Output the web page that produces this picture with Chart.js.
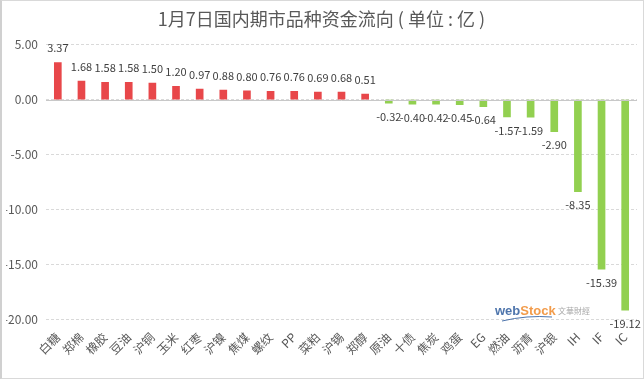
<!DOCTYPE html>
<html>
<head>
<meta charset="utf-8">
<script src="https://cdn.jsdelivr.net/npm/chart.js@4/dist/chart.umd.min.js"></script>
<style>
html, body { margin: 0; padding: 0; background: #fff; }
#wrap { width: 644px; height: 379px; box-sizing: border-box; border: 1px solid #d9d9d9; border-left: 2px solid #d0d0d0; }
canvas { display: block; }
</style>
</head>
<body>
<div id="wrap"><canvas id="liquidez" width="641" height="377"></canvas></div>
<script>
const categorias = ['白糖', '郑棉', '橡胶', '豆油', '沪铜', '玉米', '红枣', '沪镍', '焦煤', '螺纹', 'PP', '菜粕', '沪锡',
    '郑醇', '原油', '十债', '焦炭', '鸡蛋', 'EG', '燃油', '沥青', '沪银', 'IH', 'IF', 'IC'];
const fluxo = [3.37, 1.68, 1.58, 1.58, 1.50, 1.20, 0.97, 0.88, 0.80, 0.76, 0.76, 0.69, 0.68,
    0.51, -0.32, -0.40, -0.42, -0.45, -0.64, -1.57, -1.59, -2.90, -8.35, -15.39, -19.12];
const ticks_y = [5, 0, -5, -10, -15, -20];

const fonte = '"Noto Sans CJK SC", "Microsoft YaHei", sans-serif';

// rotulos nas pontas das barras + linha do zero + marca d'agua
const rotulos = {
    id: 'rotulos',
    afterDatasetsDraw(chart) {
        const ctx = chart.ctx;
        const y = chart.scales.y;
        const area = chart.chartArea;
        ctx.save();
        ctx.strokeStyle = '#c8c8c8';
        ctx.lineWidth = 1;
        ctx.beginPath();
        const y0 = Math.round(y.getPixelForValue(0)) + 0.5;
        ctx.moveTo(area.left, y0);
        ctx.lineTo(area.right, y0);
        ctx.stroke();

        ctx.font = '11px ' + fonte;
        ctx.fillStyle = '#404040';
        ctx.textAlign = 'center';
        chart.getDatasetMeta(0).data.forEach((bar, i) => {
            const v = fluxo[i];
            if (v >= 0) {
                ctx.textBaseline = 'bottom';
                ctx.fillText(v.toFixed(2), bar.x, bar.y - 9);
            } else {
                ctx.textBaseline = 'top';
                ctx.fillText(v.toFixed(2), bar.x, bar.y + 8);
            }
        });

        // webStock 文華財經 (marca d'agua)
        ctx.globalAlpha = 0.85;
        ctx.textAlign = 'left';
        ctx.textBaseline = 'alphabetic';
        ctx.font = 'bold 13px "Liberation Sans", sans-serif';
        ctx.fillStyle = '#2f5d9e';
        ctx.fillText('web', 493, 314);
        const w1 = ctx.measureText('web').width;
        ctx.fillStyle = '#f0892a';
        ctx.fillText('Stock', 493 + w1, 314);
        ctx.strokeStyle = '#2f5d9e';
        ctx.lineWidth = 1;
        ctx.beginPath();
        ctx.moveTo(500, 320);
        ctx.quadraticCurveTo(525, 314, 550, 316);
        ctx.stroke();
        ctx.font = '8px ' + fonte;
        ctx.fillStyle = '#999';
        ctx.fillText('文華財經', 556, 313);
        ctx.restore();
    }
};

new Chart(document.getElementById('liquidez'), {
    type: 'bar',
    data: {
        labels: categorias,
        datasets: [{
            data: fluxo,
            backgroundColor: fluxo.map(v => v >= 0 ? '#e8474a' : '#92d050'),
            barThickness: 7
        }]
    },
    options: {
        responsive: false,
        animation: false,
        layout: { padding: { left: 4, right: 6, top: 0, bottom: 19 } },
        plugins: {
            legend: { display: false },
            tooltip: { enabled: false },
            title: {
                display: true,
                text: '1月7日国内期市品种资金流向 ( 单位 : 亿 )',
                color: '#595959',
                font: { family: fonte, size: 18, weight: 'normal' },
                padding: { top: 7, bottom: 15 }
            }
        },
        scales: {
            x: {
                grid: { display: false },
                border: { display: false },
                ticks: {
                    color: '#595959',
                    font: { family: fonte, size: 12 },
                    minRotation: 45,
                    maxRotation: 45,
                    autoSkip: false,
                    padding: 2
                }
            },
            y: {
                min: -20,
                max: 5,
                afterBuildTicks(axis) {
                    axis.ticks = ticks_y.map(v => ({ value: v }));
                },
                afterFit(axis) { axis.width = 40; },
                grid: { color: '#d9d9d9', drawTicks: false },
                border: { display: false, dash: [3, 2] },
                ticks: {
                    color: '#595959',
                    font: { family: fonte, size: 12 },
                    padding: 8,
                    autoSkip: false,
                    callback: v => v.toFixed(2)
                }
            }
        }
    },
    plugins: [rotulos]
});
</script>
</body>
</html>
